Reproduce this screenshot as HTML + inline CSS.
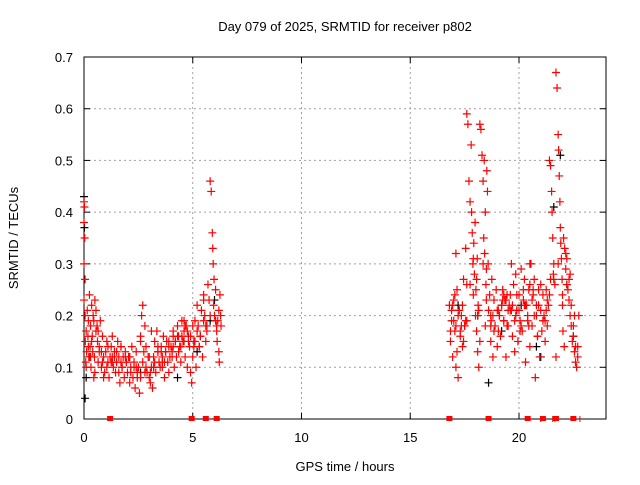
<!DOCTYPE html>
<html><head><meta charset="utf-8"><style>
body{margin:0;background:#fff;font-family:"Liberation Sans",sans-serif}
svg text{font-family:"Liberation Sans",sans-serif;font-size:13px;fill:#000}
</style></head><body>
<svg id="chart" width="640" height="480" xmlns="http://www.w3.org/2000/svg">
<rect width="640" height="480" fill="#fff"/>
<text x="345" y="31" text-anchor="middle">Day 079 of 2025, SRMTID for receiver p802</text>
<text x="345" y="471" text-anchor="middle">GPS time / hours</text>
<text transform="translate(18,238) rotate(-90)" text-anchor="middle">SRMTID / TECUs</text>
<g id="grid"></g><g id="axes"></g><g id="marks"></g>
</svg>
<script>
const xTicks=[0,5,10,15,20];
const yTicks=[0,0.1,0.2,0.3,0.4,0.5,0.6,0.7];
const redHours=[0,0,0,0,0.02,0.03,0.05,0.05,0.06,0.08,0.1,0.12,0.15,0.18,0.2,0.22,0.25,0.28,0.3,0.32,0.35,0.38,0.4,0.42,0.45,0.48,0.5,0.55,0.6,0.62,0.65,0.7,0.75,0.8,0.85,0.9,0.95,1.0,1.05,1.1,1.15,1.2,1.25,1.3,1.35,1.4,1.45,1.5,1.55,1.6,1.65,1.7,1.75,1.8,1.85,1.9,1.95,2.0,2.05,2.1,2.15,2.2,2.25,2.3,2.35,2.4,2.45,2.5,2.55,2.6,2.65,2.7,2.75,2.8,2.85,2.9,2.95,3.0,3.05,3.1,3.15,3.2,3.25,3.3,3.35,3.4,3.45,3.5,3.55,3.6,3.65,3.7,3.75,3.8,3.85,3.9,3.95,4.0,4.05,4.1,4.15,4.2,4.25,4.3,4.35,4.4,4.45,4.5,4.55,4.6,4.65,4.7,4.75,4.8,4.85,4.9,4.95,5.0,5.05,5.1,5.15,5.2,5.25,5.3,5.35,5.4,5.45,5.5,5.55,5.6,5.65,5.7,5.75,5.8,5.85,5.9,5.92,5.94,5.96,5.98,6.0,6.05,6.1,6.12,6.15,6.2,6.22,6.25,6.28,6.3,
16.8,16.85,16.9,16.95,17.0,17.05,17.1,17.15,17.2,17.25,17.3,17.35,17.4,17.45,17.5,17.55,17.6,17.65,17.7,17.75,17.8,17.82,17.85,17.88,17.9,17.92,17.95,17.98,18.0,18.02,18.05,18.08,18.1,18.12,18.15,18.2,18.25,18.3,18.35,18.38,18.4,18.42,18.45,18.48,18.5,18.52,18.55,18.58,18.6,18.65,18.7,18.72,18.75,18.8,18.85,18.9,18.95,19.0,19.05,19.1,19.15,19.2,19.25,19.3,19.35,19.4,19.45,19.5,19.55,19.6,19.65,19.7,19.75,19.8,19.85,19.9,19.95,20.0,20.05,20.1,20.15,20.2,20.25,20.3,20.35,20.4,20.45,20.5,20.55,20.6,20.65,20.7,20.75,20.8,20.85,20.9,20.95,21.0,21.05,21.1,21.15,21.2,21.25,21.3,21.35,21.4,21.45,21.5,21.52,21.55,21.58,21.6,21.65,21.7,21.75,21.8,21.82,21.85,21.88,21.9,21.92,21.95,21.98,22.0,22.02,22.05,22.08,22.1,22.15,22.2,22.25,22.3,22.35,22.4,22.45,22.5,22.55,22.6,22.65,22.7,22.75,
0.1,0.3,0.5,0.9,1.3,1.7,2.1,2.6,3.1,3.6,4.1,4.6,5.1,5.5,6.1,17.1,17.6,18.1,18.7,19.3,19.9,20.5,21.1,21.7,22.3,22.6];
const redValues=[0.42,0.38,0.30,0.23,0.41,0.35,0.27,0.20,0.15,0.11,0.17,0.13,0.21,0.16,0.19,0.12,0.24,0.14,0.18,0.10,0.22,0.16,0.13,0.20,0.08,0.12,0.23,0.21,0.18,0.15,0.11,0.14,0.19,0.10,0.16,0.12,0.09,0.13,0.15,0.11,0.08,0.12,0.14,0.16,0.10,0.13,0.09,0.11,0.15,0.12,0.07,0.14,0.10,0.12,0.08,0.13,0.11,0.09,0.12,0.07,0.10,0.14,0.08,0.11,0.06,0.13,0.09,0.10,0.05,0.16,0.20,0.22,0.13,0.18,0.14,0.09,0.12,0.08,0.07,0.10,0.06,0.12,0.15,0.09,0.17,0.13,0.11,0.10,0.14,0.12,0.16,0.08,0.13,0.15,0.11,0.09,0.12,0.14,0.13,0.17,0.10,0.15,0.12,0.18,0.16,0.14,0.11,0.19,0.15,0.17,0.12,0.18,0.10,0.16,0.14,0.09,0.07,0.12,0.15,0.19,0.10,0.22,0.18,0.14,0.16,0.21,0.12,0.24,0.20,0.15,0.18,0.26,0.23,0.46,0.44,0.36,0.33,0.30,0.22,0.27,0.20,0.25,0.17,0.15,0.19,0.13,0.11,
0.24,0.20,0.18,0.22,0.15,0.19,0.12,0.23,0.17,0.10,0.25,0.08,0.21,0.16,0.20,0.14,0.27,0.18,0.33,0.59,0.57,0.46,0.42,0.53,0.40,0.36,0.30,0.24,0.34,0.28,0.38,0.20,0.25,0.17,0.31,0.13,0.22,0.10,0.57,0.56,0.51,0.46,0.35,0.50,0.32,0.40,0.26,0.29,0.48,0.44,0.30,0.21,0.24,0.15,0.19,0.27,0.12,0.23,0.18,0.25,0.14,0.21,0.20,0.16,0.22,0.25,0.19,0.23,0.12,0.24,0.18,0.22,0.21,0.30,0.16,0.26,0.13,0.28,0.21,0.15,0.24,0.19,0.29,0.17,0.23,0.27,0.11,0.22,0.20,0.25,0.14,0.30,0.18,0.24,0.27,0.08,0.20,0.16,0.22,0.12,0.26,0.17,0.24,0.20,0.15,0.25,0.18,0.22,0.50,0.49,0.44,0.40,0.35,0.28,0.30,0.26,0.67,0.64,0.55,0.52,0.47,0.42,0.37,0.34,0.31,0.27,0.22,0.17,0.35,0.14,0.33,0.29,0.31,0.25,0.27,0.20,0.22,0.15,0.18,0.13,0.11,0.10,
0.14,0.20,0.10,0.12,0.09,0.08,0.11,0.14,0.12,0.15,0.17,0.10,0.16,0.19,0.15,0.23,0.18,0.32,0.26,0.20,0.18,0.24,0.21,0.30,0.19,0.12];
const redHours2=[0.2,0.35,0.55,0.7,0.85,1.05,1.25,1.4,1.6,1.75,1.95,2.15,2.3,2.45,2.7,2.85,3.05,3.25,3.4,3.6,3.75,3.9,4.05,4.2,4.35,4.5,4.6,4.75,4.9,5.05,5.2,5.35,5.5,5.65,5.8,6.05,6.2,
0.25,0.45,0.65,0.8,1.1,1.3,1.5,1.7,1.9,2.1,2.4,2.6,2.8,3.0,3.2,3.4,3.55,3.7,3.9,4.1,4.3,4.45,4.65,4.8,5.0,5.3,5.6,
16.9,17.0,17.1,17.2,17.3,17.4,17.5,17.6,17.75,17.9,18.05,18.2,18.35,18.5,18.7,18.85,19.0,19.1,19.2,19.3,19.4,19.5,19.6,19.7,19.8,19.9,20.0,20.1,20.2,20.3,20.4,20.5,20.6,20.7,20.8,20.9,21.0,21.2,21.3,21.4,21.6,21.8,22.0,22.2,22.3,22.4,22.5,22.6,22.7,
16.85,16.95,17.05,17.15,17.25,17.35,17.45,17.55,18.15,18.45,18.8,19.05,19.25,19.45,19.65,19.85,20.05,20.25,20.45,20.65,20.85,21.25,21.45,22.15,22.35,22.55];
const redValues2=[0.14,0.15,0.17,0.13,0.11,0.10,0.11,0.12,0.09,0.10,0.11,0.09,0.10,0.08,0.11,0.10,0.09,0.11,0.13,0.11,0.13,0.14,0.12,0.15,0.13,0.16,0.15,0.17,0.16,0.14,0.17,0.16,0.19,0.17,0.20,0.19,0.21,
0.12,0.19,0.17,0.13,0.14,0.12,0.13,0.11,0.12,0.12,0.10,0.08,0.09,0.12,0.10,0.14,0.13,0.11,0.15,0.14,0.16,0.14,0.18,0.15,0.18,0.14,0.18,
0.21,0.19,0.18,0.20,0.17,0.22,0.18,0.19,0.26,0.31,0.27,0.15,0.30,0.23,0.20,0.17,0.21,0.20,0.22,0.19,0.23,0.21,0.24,0.22,0.19,0.24,0.21,0.18,0.25,0.22,0.19,0.26,0.23,0.20,0.22,0.25,0.21,0.19,0.23,0.24,0.27,0.30,0.24,0.26,0.23,0.18,0.16,0.14,0.12,
0.17,0.22,0.24,0.13,0.21,0.18,0.15,0.19,0.21,0.18,0.20,0.17,0.23,0.18,0.21,0.20,0.17,0.22,0.18,0.25,0.16,0.21,0.27,0.32,0.28,0.20];
const blackHours=[0.0,0.02,0.05,0.1,0.3,2.6,3.2,4.3,5.2,5.8,6.0,17.2,18.1,18.6,19.2,20.1,20.8,21.0,21.6,21.9,22.2,22.5];
const blackValues=[0.43,0.37,0.04,0.08,0.12,0.09,0.10,0.08,0.13,0.19,0.23,0.22,0.20,0.07,0.17,0.22,0.14,0.12,0.41,0.51,0.26,0.16];
const zeroHours=[1.2,4.95,5.6,6.1,16.8,18.6,20.4,21.1,21.7,22.5];
const tickZeroHours=[21.0,21.55,21.65,22.8];
const X0=84,X1=606,Y0=419,Y1=57,XMAX=24,YMAX=0.7;
const sx=h=>X0+h/XMAX*(X1-X0), sy=v=>Y0-v/YMAX*(Y0-Y1);
const NS="http://www.w3.org/2000/svg";
function mk(p,t,a){const e=document.createElementNS(NS,t);for(const k in a)e.setAttribute(k,a[k]);p.appendChild(e);return e;}
const grid=document.getElementById('grid'),axes=document.getElementById('axes'),marks=document.getElementById('marks');
xTicks.forEach(t=>{const x=sx(t);
 if(t>0){const g=mk(grid,'line',{x1:x,x2:x,y1:Y1,y2:Y0,stroke:'#a0a0a0','stroke-dasharray':'2,3'});
 
 }
 mk(axes,'line',{x1:x,x2:x,y1:Y0,y2:Y0-6,stroke:'#000'});mk(axes,'line',{x1:x,x2:x,y1:Y1,y2:Y1+6,stroke:'#000'});
 const l=mk(axes,'text',{x:x,y:Y0+23,'text-anchor':'middle'});l.textContent=t;
 
 });
yTicks.forEach(t=>{const y=sy(t);
 if(t>0&&t<YMAX){const g=mk(grid,'line',{x1:X0,x2:X1,y1:y,y2:y,stroke:'#a0a0a0','stroke-dasharray':'2,3'});
 
 }
 mk(axes,'line',{x1:X0,x2:X0+6,y1:y,y2:y,stroke:'#000'});mk(axes,'line',{x1:X1,x2:X1-6,y1:y,y2:y,stroke:'#000'});
 const l=mk(axes,'text',{x:X0-11,y:y+5,'text-anchor':'end'});l.textContent=t===0?'0':t.toFixed(1);
 
 });
const fr=mk(axes,'rect',{x:X0,y:Y1,width:X1-X0,height:Y0-Y1,fill:'none',stroke:'#000'});


function plus(h,v,c){const x=sx(h),y=sy(v);
 return mk(marks,'path',{d:`M${x-4},${y}h8M${x},${y-4}v8`,stroke:c,'stroke-width':1.2,fill:'none'});}
blackHours.forEach((h,i)=>{const p=plus(h,blackValues[i],'#000');
 
 });
redHours.forEach((h,i)=>{const p=plus(h,redValues[i],'#f00');
 
 });
redHours2.forEach((h,i)=>{const p=plus(h,redValues2[i],'#f00');
 
 });
zeroHours.forEach(h=>{const r=mk(marks,'rect',{x:sx(h)-3,y:Y0-3,width:6,height:5,fill:'#f00'});
 
 });
tickZeroHours.forEach(h=>{const r=mk(marks,'line',{x1:sx(h),x2:sx(h),y1:Y0-3,y2:Y0+3,stroke:'#f00'});
 
 });
</script>
</body></html>
